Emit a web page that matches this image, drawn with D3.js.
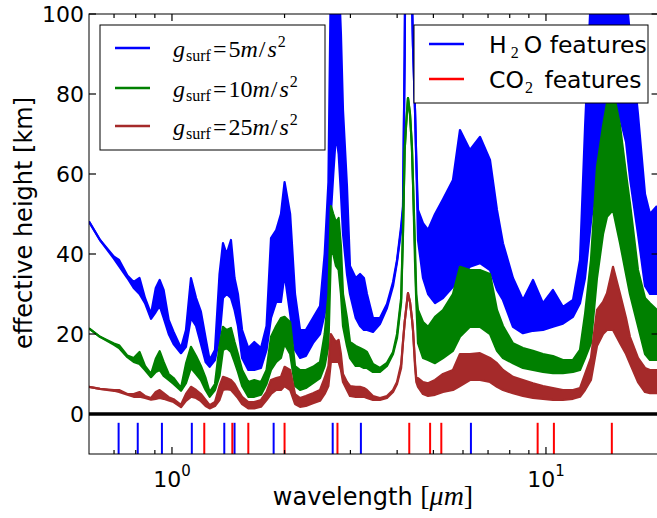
<!DOCTYPE html>
<html><head><meta charset="utf-8">
<script src="https://cdn.jsdelivr.net/npm/d3@7"></script>
<style>body{margin:0;background:#fff} svg{display:block}</style>
</head><body><svg id="c" width="657" height="518"></svg>
<script>
// wavelength grid [µm]
const wavelengths = [0.600,0.642,0.700,0.722,0.760,0.790,0.819,0.847,0.879,0.905,0.927,0.950,0.980,1.010,1.057,1.090,1.124,1.160,1.195,1.230,1.261,1.303,1.340,1.369,1.400,1.438,1.470,1.501,1.540,1.600,1.660,1.730,1.790,1.840,1.900,1.956,2.000,2.070,2.133,2.200,2.280,2.382,2.488,2.560,2.620,2.660,2.700,2.745,2.790,2.830,2.866,2.937,2.992,3.100,3.183,3.260,3.322,3.447,3.598,3.757,3.900,3.997,4.100,4.147,4.190,4.225,4.276,4.329,4.380,4.410,4.465,4.500,4.548,4.690,4.838,5.051,5.305,5.641,5.889,6.262,6.660,7.085,7.396,7.674,8.161,8.679,9.232,9.817,10.44,11.10,11.81,12.33,12.72,13.19,13.69,14.21,14.56,15.11,15.78,16.37,16.77,17.62,18.40,18.97,19.81];
// g_surf = 5 m/s^2 (lower / upper envelope, km)
const g5Lo = [48.1,43.5,38.8,37.0,34.0,31.5,30.0,27.7,23.8,25.5,27.0,24.0,20.0,17.5,15.2,16.8,24.0,22.0,17.5,13.0,11.8,13.5,19.0,29.0,30.0,29.0,26.0,22.0,14.0,11.0,11.0,11.5,16.0,24.0,28.0,28.0,35.0,25.0,16.0,14.0,14.5,17.7,20.0,25.0,30.0,50.0,60.0,70.0,65.0,55.0,45.0,35.0,30.0,24.0,22.0,21.0,21.0,20.5,22.5,26.5,32.0,38.0,46.0,51.0,90.0,140,150,140,105,92.0,76.0,63.5,43.5,34.0,30.0,27.7,29.0,31.8,34.0,36.8,37.7,36.0,31.0,28.5,21.8,20.2,20.8,21.0,21.8,22.6,24.3,27.7,34.0,48.0,60.0,72.0,76.0,80.0,74.0,68.0,59.0,45.0,32.0,30.0,30.0];
const g5Hi = [48.1,43.5,39.3,38.5,34.6,33.0,34.0,29.0,25.0,31.5,33.5,31.0,23.5,20.5,16.5,21.0,34.0,29.0,25.6,19.0,13.5,16.0,35.0,42.7,40.0,43.5,34.0,30.0,21.0,16.5,18.0,16.5,22.0,44.0,46.0,50.0,58.0,50.0,30.0,21.0,21.0,24.0,27.0,40.0,58.0,110,110,110,110,95.0,76.0,57.0,37.0,34.0,35.0,34.0,30.0,24.0,24.0,27.5,33.0,38.5,47.0,52.0,90.0,140,150,140,105,92.0,76.0,63.5,51.0,47.7,46.0,50.0,53.7,58.5,71.0,66.0,69.3,63.5,51.0,42.7,34.0,28.5,33.5,27.7,31.0,26.8,28.5,38.5,71.8,105,110,110,110,110,110,105,95.0,75.0,55.0,50.0,52.0];
// g_surf = 10 m/s^2
const g10Lo = [21.4,19.3,17.3,16.5,14.2,13.0,12.5,11.0,9.2,10.5,11.0,9.5,8.5,7.5,5.8,7.7,11.5,10.0,8.5,6.0,4.3,6.0,9.5,16.0,16.5,15.5,13.0,10.5,7.0,4.3,4.3,4.8,7.5,11.0,13.0,14.0,17.5,15.0,7.0,6.0,6.5,7.7,9.0,12.0,17.0,40.0,40.0,37.0,36.0,30.0,22.0,17.0,14.0,12.0,12.0,11.5,11.5,10.5,10.5,12.0,15.0,19.0,28.0,45.0,66.0,72.0,79.0,75.0,67.0,58.0,38.0,28.0,17.7,14.0,13.5,12.7,14.0,15.8,19.3,21.8,21.8,20.0,15.8,14.0,12.7,11.5,11.0,10.5,10.2,10.2,10.5,11.0,14.0,17.7,34.0,45.0,49.3,51.0,42.7,35.0,30.0,22.0,15.0,13.5,13.5];
const g10Hi = [21.4,19.3,17.6,17.2,14.6,14.0,15.5,12.0,10.0,13.8,15.7,13.0,10.0,9.0,6.5,12.6,16.8,14.5,12.0,9.0,5.5,7.5,17.0,21.8,21.0,21.5,18.0,15.0,11.0,8.0,8.5,8.0,11.0,19.3,22.0,24.0,24.3,23.0,12.0,11.0,11.0,11.8,13.0,20.0,30.0,52.0,50.0,48.0,49.0,42.0,30.0,24.0,18.0,17.0,16.5,16.0,15.5,12.5,11.5,12.8,15.5,20.0,29.0,46.0,66.0,72.0,79.0,75.0,67.0,58.0,42.0,30.0,26.0,23.0,21.8,24.3,26.0,30.0,36.8,36.0,36.0,35.0,26.0,22.0,17.7,16.5,15.8,15.0,14.5,13.5,13.5,16.0,25.0,38.5,61.8,72.0,77.7,81.0,72.0,60.0,52.7,36.0,29.0,27.7,26.0];
// g_surf = 25 m/s^2
const g25Lo = [6.8,6.3,5.8,5.5,4.8,4.3,4.3,4.0,3.6,3.8,4.0,3.8,3.4,3.0,1.7,3.3,4.3,4.0,3.2,2.0,1.4,2.0,3.5,6.0,6.2,6.0,5.0,4.0,2.5,1.4,1.4,1.8,3.5,5.0,6.0,6.0,7.0,6.0,2.5,1.8,2.0,2.7,3.3,5.0,7.0,13.0,13.0,13.0,13.0,11.0,8.0,6.0,4.5,4.3,4.3,4.3,4.0,3.5,3.5,4.0,5.5,7.5,11.5,18.0,23.0,26.0,30.2,28.0,24.0,21.0,12.0,8.0,6.8,5.0,4.5,4.8,5.5,6.0,7.0,8.5,8.5,8.0,6.8,6.0,5.2,4.5,4.0,3.8,3.5,3.5,3.8,4.3,6.0,8.5,17.0,20.0,21.0,21.0,17.7,15.0,12.7,8.0,5.5,5.2,5.2];
const g25Hi = [6.8,6.3,6.0,6.0,5.0,5.0,5.5,4.5,4.0,5.5,6.0,5.2,4.2,3.7,2.3,5.0,6.8,6.0,5.0,3.5,2.2,3.0,7.0,9.3,9.0,8.5,7.5,6.0,4.3,3.0,3.0,3.5,5.5,8.5,9.0,9.3,11.8,11.0,5.0,4.0,4.5,5.2,6.0,9.0,12.0,20.0,19.0,18.0,18.5,15.0,10.0,8.0,7.0,6.8,6.8,6.5,6.0,4.5,4.0,4.5,6.0,8.0,12.5,18.0,23.0,26.0,30.2,28.0,24.0,21.0,13.0,9.0,9.0,8.0,7.7,8.5,10.0,11.0,15.0,15.0,15.2,14.0,12.7,11.0,9.3,8.5,7.7,7.0,6.5,6.0,6.0,6.5,10.0,14.0,26.0,28.0,30.2,36.8,30.0,24.0,19.3,14.0,11.5,11.0,11.0];

const seriesNames = ["5","10","25"];
const seriesColors = ["#0000ff","#008000","#a52a2a"];
const h2oFeatures = [0.72,0.81,0.94,1.13,1.38,1.47,1.87,2.69,3.2,6.3];
const co2Features = [1.22,1.45,1.6,2.0,2.77,4.31,4.9,5.25,9.5,10.5,15.0];
const yTicks = [0,20,40,60,80,100];
const xMajorTicks = [1,10];
const xMinorTicks = [0.7,0.8,0.9,2,3,4,5,6,7,8,9];

const svg = d3.select("#c");
const L = 89, T = 14, B = 454;
const x = d3.scaleLog().domain([0.6,20]).range([L, L + 374*Math.log10(20/0.6)]);
const y = d3.scaleLinear().domain([-10,100]).range([B, T]);
const R = x.range()[1];

svg.append("defs").append("clipPath").attr("id","clip")
  .append("rect").attr("x",L).attr("y",T).attr("width",R-L).attr("height",B-T);
const plot = svg.append("g").attr("clip-path","url(#clip)");

const los = [g5Lo,g10Lo,g25Lo], his = [g5Hi,g10Hi,g25Hi];
los.forEach((lo,si)=>{
  const d = wavelengths.map((w,i)=>({w, lo: lo[i], hi: his[si][i]}));
  const c = seriesColors[si];
  plot.append("path").datum(d)
    .attr("d", d3.area().x(p=>x(p.w)).y0(p=>y(p.lo)).y1(p=>y(p.hi)))
    .attr("fill", c);
  ["lo","hi"].forEach(k=>{
    plot.append("path").datum(d)
      .attr("d", d3.line().x(p=>x(p.w)).y(p=>y(p[k])))
      .attr("fill","none").attr("stroke",c).attr("stroke-width",2.2).attr("stroke-linejoin","round");
  });
});

// zero line
plot.append("line").attr("x1",L).attr("x2",R).attr("y1",y(0)).attr("y2",y(0))
  .attr("stroke","#000").attr("stroke-width",3.5);
// features
plot.selectAll(".h2o").data(h2oFeatures).join("line")
  .attr("x1",d=>x(d)).attr("x2",d=>x(d)).attr("y1",y(-2.2)).attr("y2",y(-10))
  .attr("stroke","#0000ff").attr("stroke-width",2);
plot.selectAll(".co2").data(co2Features).join("line")
  .attr("x1",d=>x(d)).attr("x2",d=>x(d)).attr("y1",y(-2.2)).attr("y2",y(-10))
  .attr("stroke","#ff0000").attr("stroke-width",2);

// frame
svg.append("rect").attr("x",L).attr("y",T).attr("width",R-L).attr("height",B-T)
  .attr("fill","none").attr("stroke","#000").attr("stroke-width",1);

// ticks
const tg = svg.append("g").attr("stroke","#000").attr("stroke-width",1.2);
yTicks.forEach(v=>{
  tg.append("line").attr("x1",L).attr("x2",L+7).attr("y1",y(v)).attr("y2",y(v));
  tg.append("line").attr("x1",R).attr("x2",R-7).attr("y1",y(v)).attr("y2",y(v));
});
xMajorTicks.forEach(v=>{
  tg.append("line").attr("x1",x(v)).attr("x2",x(v)).attr("y1",B).attr("y2",B-7);
  tg.append("line").attr("x1",x(v)).attr("x2",x(v)).attr("y1",T).attr("y2",T+7);
});
xMinorTicks.forEach(v=>{
  tg.append("line").attr("x1",x(v)).attr("x2",x(v)).attr("y1",B).attr("y2",B-4);
  tg.append("line").attr("x1",x(v)).attr("x2",x(v)).attr("y1",T).attr("y2",T+4);
});

const sans = "DejaVu Sans, sans-serif";
const serif = "Liberation Serif, serif";
yTicks.forEach(v=>{
  svg.append("text").attr("x",84).attr("y",y(v)).attr("dy","0.36em")
    .attr("text-anchor","end").attr("font-family",sans).attr("font-size",22).text(v);
});
xMajorTicks.forEach(v=>{
  const t = svg.append("text").attr("x",x(v)).attr("y",487).attr("text-anchor","middle")
    .attr("font-family",sans).attr("font-size",22);
  t.append("tspan").text("10");
  t.append("tspan").attr("font-size",15).attr("dy",-11).text(Math.round(Math.log10(v)));
});

// axis labels
const xl = svg.append("text").attr("x",(L+657)/2).attr("y",505).attr("text-anchor","middle")
  .attr("font-family",sans).attr("font-size",24);
xl.append("tspan").text("wavelength ");
xl.append("tspan").attr("font-family",serif).attr("font-size",28).text("[");
xl.append("tspan").attr("font-family",serif).attr("font-size",28).attr("font-style","italic").text("μm");
xl.append("tspan").attr("font-family",serif).attr("font-size",28).text("]");
svg.append("text").attr("transform","translate(31.5,223) rotate(-90)").attr("text-anchor","middle")
  .attr("font-family",sans).attr("font-size",24).text("effective height [km]");

// legend 1
const lg1 = svg.append("g");
lg1.append("rect").attr("x",100).attr("y",25).attr("width",225).attr("height",125)
  .attr("fill","#fff").attr("stroke","#000").attr("stroke-width",1);
[48,88,126].forEach((ly,i)=>{
  lg1.append("line").attr("x1",115).attr("x2",150).attr("y1",ly).attr("y2",ly)
    .attr("stroke",seriesColors[i]).attr("stroke-width",2.5);
  const t = lg1.append("text").attr("x",173).attr("y",ly+9).attr("font-family",serif).attr("font-size",24);
  t.append("tspan").attr("font-style","italic").text("g");
  t.append("tspan").attr("font-size",16).attr("dy",4).attr("dx",1).text("surf");
  t.append("tspan").attr("dy",-4).attr("dx",2).text("=");
  t.append("tspan").attr("dx",2).text(seriesNames[i]);
  t.append("tspan").attr("font-style","italic").text("m");
  t.append("tspan").attr("dx",1).text("/");
  t.append("tspan").attr("font-style","italic").attr("dx",2).text("s");
  t.append("tspan").attr("font-size",16).attr("dy",-10).attr("dx",1).text("2");
});

// legend 2
const lg2 = svg.append("g");
lg2.append("rect").attr("x",414).attr("y",25).attr("width",234).attr("height",78)
  .attr("fill","#fff").attr("stroke","#000").attr("stroke-width",1);
lg2.append("line").attr("x1",429).attr("x2",464).attr("y1",44).attr("y2",44).attr("stroke","#0000ff").attr("stroke-width",2.5);
lg2.append("line").attr("x1",429).attr("x2",464).attr("y1",79).attr("y2",79).attr("stroke","#ff0000").attr("stroke-width",2.5);
const t1 = lg2.append("text").attr("x",489).attr("y",52.5).attr("font-family",sans).attr("font-size",23.5);
t1.append("tspan").text("H");
t1.append("tspan").attr("font-family",serif).attr("font-size",16).attr("dx",4).attr("dy",5).text("2");
t1.append("tspan").attr("dx",5).attr("dy",-5).text("O features");
const t2 = lg2.append("text").attr("x",489).attr("y",87.5).attr("font-family",sans).attr("font-size",23.5);
t2.append("tspan").text("CO");
t2.append("tspan").attr("font-family",serif).attr("font-size",16).attr("dx",1).attr("dy",5).text("2");
t2.append("tspan").attr("dx",4).attr("dy",-5).text(" features");
</script>
</body></html>
